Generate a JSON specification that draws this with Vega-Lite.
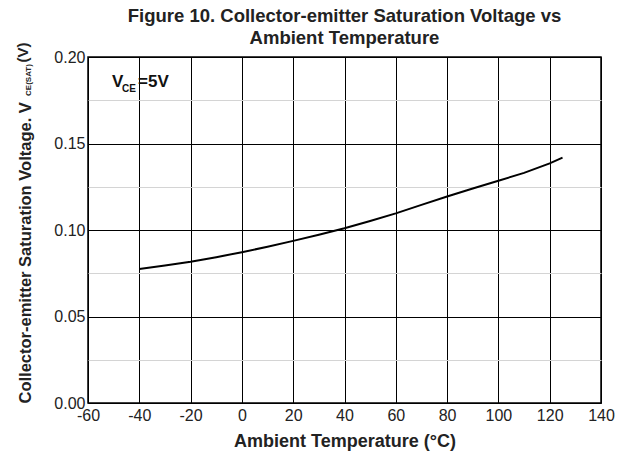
{
  "$schema": "https://vega.github.io/schema/vega-lite/v6.json",
  "width": 513,
  "height": 346,
  "autosize": {"type": "none"},
  "padding": {"left": 88, "top": 57, "right": 32, "bottom": 56},
  "background": "white",
  "config": {
    "font": "Liberation Sans",
    "view": {"stroke": "black", "strokeWidth": 1.5}
  },
  "title": {
    "text": ["Figure 10. Collector-emitter Saturation Voltage vs", "Ambient Temperature"],
    "font": "Liberation Sans",
    "fontSize": 18.5,
    "fontWeight": "bold",
    "color": "#222222",
    "anchor": "middle",
    "lineHeight": 22,
    "offset": 4,
    "dy": 9
  },
  "datasets": {
    "curve": [
      {"temp": -40, "vce": 0.0775},
      {"temp": -30, "vce": 0.0795},
      {"temp": -20, "vce": 0.0817},
      {"temp": -10, "vce": 0.0843},
      {"temp": 0, "vce": 0.0872},
      {"temp": 10, "vce": 0.0903},
      {"temp": 20, "vce": 0.0937},
      {"temp": 30, "vce": 0.0972},
      {"temp": 40, "vce": 0.1010},
      {"temp": 50, "vce": 0.1052},
      {"temp": 60, "vce": 0.1096},
      {"temp": 70, "vce": 0.1145},
      {"temp": 80, "vce": 0.1194},
      {"temp": 90, "vce": 0.1240},
      {"temp": 100, "vce": 0.1285},
      {"temp": 110, "vce": 0.1330},
      {"temp": 120, "vce": 0.1385},
      {"temp": 125, "vce": 0.1418}
    ],
    "bigText": [
      {"temp": -50.6, "vce": 0.1827, "label": "V"},
      {"temp": -40.5, "vce": 0.1827, "label": "=5V"}
    ],
    "smallText": [
      {"temp": -46.7, "vce": 0.1795, "label": "CE"}
    ],
    "yTitleSub": [
      {"temp": -82.4, "vce": 0.1775, "label": "CE(SAT)"}
    ],
    "yTitleUnit": [
      {"temp": -83.4, "vce": 0.1968, "label": "(V)"}
    ]
  },
  "layer": [
    {
      "data": {"name": "curve"},
      "mark": {"type": "line", "color": "black", "strokeWidth": 2, "clip": true},
      "encoding": {
        "x": {
          "field": "temp",
          "type": "quantitative",
          "scale": {"domain": [-60, 140], "nice": false, "zero": false},
          "axis": {
            "title": "Ambient Temperature (°C)",
            "titleFont": "Liberation Sans",
            "titleFontSize": 18,
            "titleFontWeight": "bold",
            "titleColor": "#222222",
            "titlePadding": 9,
            "values": [-60, -50, -40, -30, -20, -10, 0, 10, 20, 30, 40, 50, 60, 70, 80, 90, 100, 110, 120, 130, 140],
            "labelExpr": "datum.value % 20 === 0 ? '' + datum.value : ''",
            "labelFont": "Liberation Sans",
            "labelFontSize": 16,
            "labelColor": "#222222",
            "labelPadding": 4,
            "labelFlush": false,
            "labelOverlap": false,
            "ticks": false,
            "domain": false,
            "grid": true,
            "gridColor": {"condition": {"test": "datum.value % 20 === 0", "value": "black"}, "value": "#d4d4d4"},
            "gridWidth": 1,
            "gridOpacity": 1
          }
        },
        "y": {
          "field": "vce",
          "type": "quantitative",
          "scale": {"domain": [0, 0.2], "nice": false, "zero": false},
          "axis": {
            "title": "Collector-emitter Saturation Voltage.  V",
            "titleFont": "Liberation Sans",
            "titleFontSize": 16.5,
            "titleFontWeight": "bold",
            "titleColor": "#222222",
            "titleAnchor": "start",
            "titlePadding": 20,
            "values": [0, 0.025, 0.05, 0.075, 0.1, 0.125, 0.15, 0.175, 0.2],
            "format": ".2f",
            "labelExpr": "abs(datum.value * 20 - round(datum.value * 20)) < 0.001 ? datum.label : ''",
            "labelFont": "Liberation Sans",
            "labelFontSize": 16,
            "labelColor": "#222222",
            "labelPadding": 3,
            "labelFlush": false,
            "labelOverlap": false,
            "ticks": false,
            "domain": false,
            "grid": true,
            "gridColor": {"condition": {"test": "abs(datum.value * 20 - round(datum.value * 20)) < 0.001", "value": "black"}, "value": "#d4d4d4"},
            "gridWidth": 1,
            "gridOpacity": 1
          }
        }
      }
    },
    {
      "data": {"name": "bigText"},
      "mark": {"type": "text", "align": "left", "baseline": "alphabetic", "font": "Liberation Sans", "fontSize": 17, "fontWeight": "bold", "color": "#111111"},
      "encoding": {
        "x": {"field": "temp", "type": "quantitative"},
        "y": {"field": "vce", "type": "quantitative"},
        "text": {"field": "label"}
      }
    },
    {
      "data": {"name": "smallText"},
      "mark": {"type": "text", "align": "left", "baseline": "alphabetic", "font": "Liberation Sans", "fontSize": 10, "fontWeight": "bold", "color": "#111111"},
      "encoding": {
        "x": {"field": "temp", "type": "quantitative"},
        "y": {"field": "vce", "type": "quantitative"},
        "text": {"field": "label"}
      }
    },
    {
      "data": {"name": "yTitleSub"},
      "mark": {"type": "text", "align": "left", "baseline": "alphabetic", "angle": 270, "font": "Liberation Sans", "fontSize": 8, "fontWeight": "bold", "color": "#222222", "clip": false},
      "encoding": {
        "x": {"field": "temp", "type": "quantitative"},
        "y": {"field": "vce", "type": "quantitative"},
        "text": {"field": "label"}
      }
    },
    {
      "data": {"name": "yTitleUnit"},
      "mark": {"type": "text", "align": "left", "baseline": "alphabetic", "angle": 270, "font": "Liberation Sans", "fontSize": 15, "fontWeight": "bold", "color": "#222222", "clip": false},
      "encoding": {
        "x": {"field": "temp", "type": "quantitative"},
        "y": {"field": "vce", "type": "quantitative"},
        "text": {"field": "label"}
      }
    }
  ]
}
